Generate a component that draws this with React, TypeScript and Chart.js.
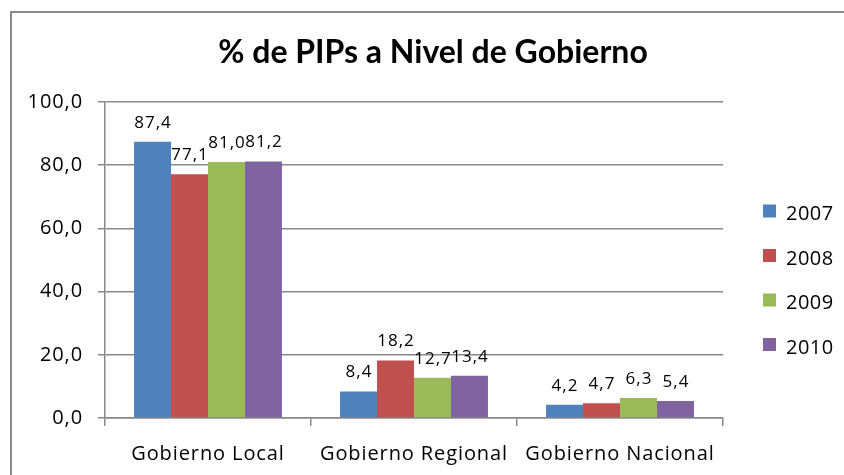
import React, { useEffect, useRef } from "react";
import { Chart, registerables } from "chart.js";

Chart.register(...registerables);

const categories = ["Gobierno Local", "Gobierno Regional", "Gobierno Nacional"];
const seriesLabels = ["2007", "2008", "2009", "2010"];
const values2007 = [87.4, 8.4, 4.2];
const values2008 = [77.1, 18.2, 4.7];
const values2009 = [81.0, 12.7, 6.3];
const values2010 = [81.2, 13.4, 5.4];
const seriesValues = [values2007, values2008, values2009, values2010];
const seriesColors = ["#4F81BD", "#C0504D", "#9BBB59", "#8064A2"];
const yMin = 0;
const yMax = 100;
const yStep = 20;
const chartTitle = "% de PIPs a Nivel de Gobierno";

const FONT = "'Open Sans', Lato, sans-serif";
const TITLE_FONT = "Lato, 'Open Sans', sans-serif";
const fmt = (v: number) => v.toFixed(1).replace(".", ",");

const decorPlugin = {
  id: "decor",
  beforeDraw(chart: any) {
    const ctx = chart.ctx as CanvasRenderingContext2D;
    ctx.save();
    ctx.fillStyle = "#ffffff";
    ctx.fillRect(0, 0, chart.width, chart.height);
    ctx.strokeStyle = "#8a8a8a";
    ctx.lineWidth = 2;
    ctx.strokeRect(11, 12, chart.width + 40, chart.height + 40);
    ctx.restore();
    (ctx as any).letterSpacing = "0.9px";
  },
  afterDraw(chart: any) {
    const ctx = chart.ctx as CanvasRenderingContext2D;
    ctx.save();
    // title
    (ctx as any).letterSpacing = "0px";
    ctx.font = `bold 32px ${TITLE_FONT}`;
    ctx.fillStyle = "#000";
    ctx.textAlign = "center";
    ctx.textBaseline = "alphabetic";
    ctx.fillText(chartTitle, 433, 63);
    // data labels
    (ctx as any).letterSpacing = "1px";
    ctx.font = `17px ${FONT}`;
    chart.data.datasets.forEach((ds: any, di: number) => {
      const meta = chart.getDatasetMeta(di);
      meta.data.forEach((el: any, i: number) => {
        ctx.fillText(fmt(ds.data[i]), el.x + 0.5, el.y - 14);
      });
    });
    // legend
    (ctx as any).letterSpacing = "0.5px";
    ctx.font = `20px ${FONT}`;
    ctx.textAlign = "left";
    chart.data.datasets.forEach((ds: any, i: number) => {
      const cy = 211 + i * 44.5;
      ctx.fillStyle = ds.backgroundColor;
      ctx.fillRect(763, cy - 6.5, 13, 13);
      ctx.fillStyle = "#000";
      ctx.fillText(ds.label, 786, cy + 9);
    });
    ctx.restore();
    (ctx as any).letterSpacing = "0px";
  },
};

export default function App() {
  const ref = useRef<HTMLCanvasElement | null>(null);
  useEffect(() => {
    if (!ref.current) return;
    const chart = new Chart(ref.current, {
      type: "bar",
      data: {
        labels: categories,
        datasets: seriesLabels.map((label, i) => ({
          label,
          data: seriesValues[i],
          backgroundColor: seriesColors[i],
          borderWidth: 0,
          categoryPercentage: 0.718,
          barPercentage: 1,
        })),
      },
      options: {
        responsive: false,
        animation: false,
        layout: { padding: { left: 0, top: 102, right: 121, bottom: 0 } },
        plugins: {
          legend: { display: false },
          title: { display: false },
          tooltip: { enabled: false },
        },
        scales: {
          x: {
            grid: {
              drawOnChartArea: false,
              drawTicks: true,
              tickLength: 8,
              color: "#888888",
              lineWidth: 1.5,
              offset: true,
            },
            border: { display: true, color: "#888888", width: 1.5 },
            ticks: {
              color: "#000",
              font: { family: FONT, size: 20 },
              padding: 16,
            },
            afterFit: (s: any) => {
              s.height = 57;
            },
          },
          y: {
            min: yMin,
            max: yMax,
            ticks: {
              stepSize: yStep,
              color: "#000",
              font: { family: FONT, size: 20 },
              padding: 15,
              callback: (v: any) => fmt(Number(v)),
            },
            grid: { color: "#888888", lineWidth: 1.5, tickLength: 7 },
            border: { display: true, color: "#888888", width: 1.5 },
            afterFit: (s: any) => {
              s.width = 105;
            },
          },
        },
      },
      plugins: [decorPlugin],
    });
    return () => chart.destroy();
  }, []);
  return (
    <div style={{ position: "fixed", left: 0, top: 0, width: 844, height: 475, background: "#fff" }}>
      <canvas ref={ref} width={844} height={475} />
    </div>
  );
}
